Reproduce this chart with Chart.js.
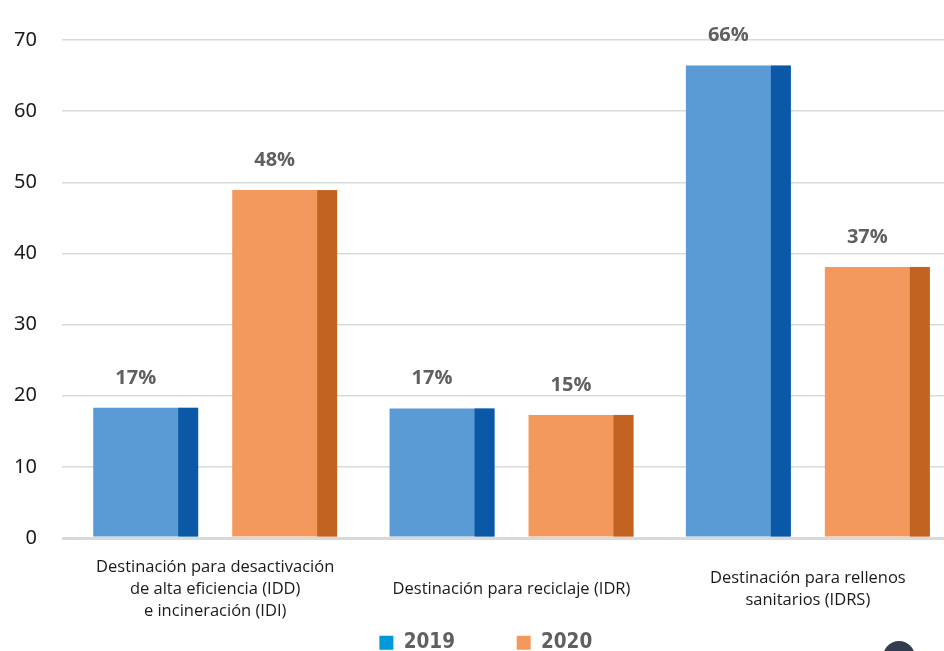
<!DOCTYPE html>
<html lang="es">
<head>
<meta charset="UTF-8" />
<title>Destinación de residuos 2019 - 2020</title>
<style>
  html, body { margin: 0; padding: 0; background: #fff; overflow: hidden; }
  #wrap { position: relative; width: 944px; height: 651px; overflow: hidden; }
  #logo { position: absolute; left: 883px; top: 641px; width: 32px; height: 32px; border-radius: 50%; background: #333c4f; }
</style>
</head>
<body>
<div id="wrap">
  <canvas id="chart" width="956" height="663"></canvas>
  <div id="logo"></div>
</div>
<script src="https://cdn.jsdelivr.net/npm/chart.js@4.4.1/dist/chart.umd.min.js"></script>
<script>
// data
const categories = [
  ["Destinación para desactivación", "de alta eficiencia (IDD)", "e incineración (IDI)"],
  "Destinación para reciclaje (IDR)",
  ["Destinación para rellenos", "sanitarios (IDRS)"]
];
const seriesNames = ["2019", "2020"];
const values2019 = [18.3, 18.2, 66.4];
const values2020 = [48.9, 17.3, 38.1];
const labels2019 = ["17%", "17%", "66%"];
const labels2020 = ["48%", "15%", "37%"];
const yTicks = [0, 10, 20, 30, 40, 50, 60, 70];

const frontColors = ["#5b9bd5", "#f4995d"];
const sideColors = ["#0b58a7", "#c26322"];
const legendColors = ["#0099d8", "#f4995d"];
const valueLabels = [labels2019, labels2020];

// darker right strip on every bar + the percentage above it
const sideFaces = {
  id: "sideFaces",
  afterDatasetsDraw(chart) {
    const ctx = chart.ctx;
    ctx.save();
    chart.data.datasets.forEach((ds, i) => {
      chart.getDatasetMeta(i).data.forEach((bar, j) => {
        const right = bar.x + bar.width / 2;
        const side = bar.width * 0.19;
        ctx.fillStyle = sideColors[i];
        ctx.fillRect(right - side, bar.y, side, bar.base - bar.y);
        ctx.fillStyle = "#606060";
        ctx.font = 'bold 20px "Open Sans"';
        ctx.textAlign = "center";
        ctx.textBaseline = "middle";
        ctx.fillText(valueLabels[i][j], bar.x - side / 2, bar.y - 30);
      });
    });
    ctx.restore();
  }
};

new Chart(document.getElementById("chart"), {
  type: "bar",
  data: {
    labels: categories,
    datasets: [
      { label: seriesNames[0], data: values2019, backgroundColor: frontColors[0] },
      { label: seriesNames[1], data: values2020, backgroundColor: frontColors[1] }
    ]
  },
  options: {
    responsive: false,
    devicePixelRatio: 1,
    animation: false,
    categoryPercentage: 0.938,
    barPercentage: 0.755,
    layout: { padding: { top: 40, left: 12, right: 0, bottom: 0 } },
    plugins: {
      tooltip: { enabled: false },
      legend: {
        position: "bottom",
        fullSize: false,
        labels: {
          boxWidth: 14,
          boxHeight: 14,
          padding: 4,
          color: "#606060",
          font: { family: '"DejaVu Sans Condensed", "DejaVu Sans"', weight: "bold", size: 20.5 },
          generateLabels: (chart) =>
            chart.data.datasets.map((ds, i) => ({
              text: ds.label + (i === 0 ? "         " : "        "),
              fillStyle: legendColors[i],
              strokeStyle: legendColors[i],
              fontColor: "#606060",
              lineWidth: 0,
              datasetIndex: i,
              hidden: false
            }))
        }
      }
    },
    scales: {
      x: {
        grid: { display: false },
        border: { display: false },
        ticks: {
          padding: 21,
          maxRotation: 0,
          autoSkip: false,
          crossAlign: "center",
          color: "#1a1a1a",
          font: { family: "Open Sans", size: 16.5, lineHeight: "22px" }
        },
        afterFit: (scale) => { scale.height = 90.5; }
      },
      y: {
        min: yTicks[0],
        max: yTicks[yTicks.length - 1],
        border: { display: false },
        grid: {
          color: "#d9d9d9",
          lineWidth: (c) => (c.tick && c.tick.value === 0 ? 3 : 1.5),
          drawTicks: true,
          tickLength: 5
        },
        ticks: {
          stepSize: 10,
          padding: 25,
          color: "#1a1a1a",
          font: { family: "Noto Sans", size: 20 }
        },
        afterFit: (scale) => { scale.width = 55; }
      }
    }
  },
  plugins: [sideFaces]
});
</script>
</body>
</html>
